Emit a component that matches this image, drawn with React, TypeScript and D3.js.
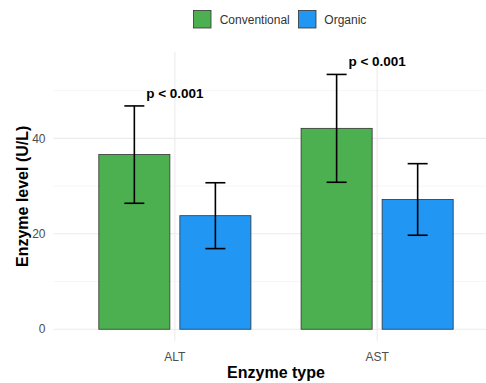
import React from 'react'
import * as d3 from 'd3'

const enzymes = ['ALT', 'AST']
const groups = ['Conventional', 'Organic']
const colors = ['#4CAF50', '#2196F3']
// means and error half-widths, per group, in enzyme order
const conventionalMean = [36.6, 42.1]
const conventionalErr = [10.2, 11.3]
const organicMean = [23.8, 27.2]
const organicErr = [6.9, 7.5]
const pLabels = ['p < 0.001', 'p < 0.001']
const yTicks = [0, 20, 40]
const yMinor = [10, 30, 50]

const W = 486
const H = 383
const font = 'Liberation Sans, Arial, sans-serif'

const App = () => {
  const panel = { left: 53.5, right: 498.5, top: 52, bottom: 340.7 }

  const x = d3.scalePoint().domain(enzymes).range([panel.left, panel.right]).padding(0.6)
  const step = x.step()
  const x1 = d3.scaleBand().domain(groups).range([-0.376 * step, 0.376 * step]).paddingInner(0.123)
  const y = d3.scaleLinear().domain([-2.4, 58.1]).range([panel.bottom, panel.top])

  const rows = enzymes.flatMap((e, i) => [
    { enzyme: e, group: groups[0], mean: conventionalMean[i], err: conventionalErr[i], color: colors[0] },
    { enzyme: e, group: groups[1], mean: organicMean[i], err: organicErr[i], color: colors[1] },
  ])

  const cap = 10

  return (
    <svg width={W} height={H} style={{ display: 'block', position: 'absolute', left: 0, top: 0 }} fontFamily={font}>
      <rect width={W} height={H} fill="white" />
      {/* grid */}
      {yMinor.map(t => (
        <line key={'m' + t} x1={panel.left} x2={panel.right} y1={y(t)} y2={y(t)} stroke="#f0f0f0" strokeWidth={0.6} />
      ))}
      {yTicks.map(t => (
        <line key={'g' + t} x1={panel.left} x2={panel.right} y1={y(t)} y2={y(t)} stroke="#ebebeb" strokeWidth={1.1} />
      ))}
      {enzymes.map(e => (
        <line key={'v' + e} x1={x(e)} x2={x(e)} y1={panel.top} y2={panel.bottom} stroke="#ebebeb" strokeWidth={1.1} />
      ))}

      {/* bars */}
      {rows.map(d => {
        const bx = (x(d.enzyme) as number) + (x1(d.group) as number)
        return (
          <rect key={d.enzyme + d.group} x={bx} y={y(d.mean)} width={x1.bandwidth()} height={y(0) - y(d.mean)}
            fill={d.color} stroke="#333333" strokeWidth={0.8} />
        )
      })}

      {/* error bars */}
      {rows.map(d => {
        const cx = (x(d.enzyme) as number) + (x1(d.group) as number) + x1.bandwidth() / 2
        const top = y(d.mean + d.err)
        const bot = y(d.mean - d.err)
        return (
          <g key={'e' + d.enzyme + d.group} stroke="black" strokeWidth={1.6}>
            <line x1={cx} x2={cx} y1={top} y2={bot} />
            <line x1={cx - cap} x2={cx + cap} y1={top} y2={top} />
            <line x1={cx - cap} x2={cx + cap} y1={bot} y2={bot} />
          </g>
        )
      })}

      {/* p labels */}
      {enzymes.map((e, i) => {
        const top = Math.max(conventionalMean[i] + conventionalErr[i], organicMean[i] + organicErr[i])
        return (
          <text key={'p' + e} x={x(e)} y={y(top) - 8} textAnchor="middle" fontSize={13.5} fontWeight="bold" fill="black">
            {pLabels[i]}
          </text>
        )
      })}

      {/* y axis labels */}
      {yTicks.map(t => (
        <text key={'yt' + t} x={45.5} y={y(t)} dy="0.35em" textAnchor="end" fontSize={12} fill="#4d4d4d">{t}</text>
      ))}
      {enzymes.map(e => (
        <text key={'xt' + e} x={x(e)} y={361} textAnchor="middle" fontSize={12} fill="#4d4d4d">{e}</text>
      ))}

      {/* axis titles */}
      <text x={(panel.left + panel.right) / 2} y={377.5} textAnchor="middle" fontSize={16} fontWeight="bold" fill="black">Enzyme type</text>
      <text transform={`translate(27.5,${(panel.top + panel.bottom) / 2}) rotate(-90)`} textAnchor="middle" fontSize={16} fontWeight="bold" fill="black">
        Enzyme level (U/L)
      </text>

      {/* legend */}
      <g>
        <rect x={193.5} y={10.5} width={17.5} height={17.5} fill={colors[0]} stroke="#333333" strokeWidth={0.8} />
        <text x={219.7} y={19.3} dy="0.35em" fontSize={12} fill="#333333">{groups[0]}</text>
        <rect x={298.5} y={10.5} width={17.5} height={17.5} fill={colors[1]} stroke="#333333" strokeWidth={0.8} />
        <text x={324.3} y={19.3} dy="0.35em" fontSize={12} fill="#333333">{groups[1]}</text>
      </g>
    </svg>
  )
}

export default App
